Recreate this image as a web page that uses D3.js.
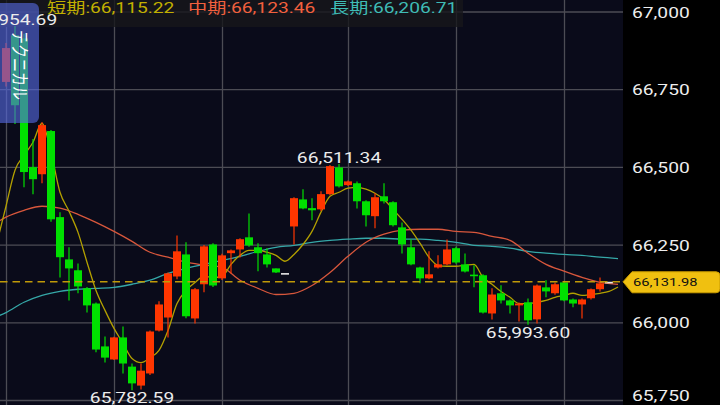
<!DOCTYPE html>
<html>
<head>
<meta charset="utf-8">
<script src="https://cdn.jsdelivr.net/npm/d3@7"></script>
<style>
  html, body { margin: 0; padding: 0; background: #000; }
  svg { display: block; }
  text { font-family: Roboto, "Noto Sans CJK JP", sans-serif; }
</style>
</head>
<body>
<div id="chart"></div>
<script>
// candles, left to right (red = up, green = down)
const opens = [
  66775, 66925, 66915, 66501, 66478, 66617, 66340, 66204, 66169, 66111,
  66062, 65924, 65882, 65953, 65859, 65798, 65837, 65975, 66017, 66149,
  66220, 66014, 66124, 66252, 66143, 66224, 66236, 66275, 66243, 66220,
  66175, 66160, 66310, 66397, 66369, 66365, 66414, 66500, 66443, 66449,
  66391, 66343, 66407, 66388, 66307, 66243, 66178, 66143, 66178, 66188,
  66240, 66188, 66155, 66153, 66030, 66095, 66072, 66056, 66066, 66011,
  66114, 66095, 66130, 66075, 66059, 66079, 66108, 66131.98
];
const highs = [
  66900, 66954.69, 66930, 66591, 66645, 66620, 66356, 66243, 66191, 66115,
  66065, 65956, 65955, 65988, 65869, 65869, 65975, 66069, 66162, 66281,
  66259, 66112, 66250, 66256, 66222, 66236, 66272, 66352, 66256, 66240,
  66175, 66160, 66404, 66430, 66401, 66423, 66508, 66511.34, 66458, 66455,
  66394, 66417, 66449, 66391, 66323, 66268, 66180, 66230, 66217, 66268,
  66245, 66223, 66185, 66156, 66111, 66121, 66075, 66065, 66078, 66123,
  66137, 66130, 66133, 66078, 66078, 66110, 66146, 66131.98
];
const lows = [
  66760, 66640, 66436, 66414, 66449, 66325, 66146, 66072, 66095, 66033,
  65905, 65872, 65880, 65837, 65782.59, 65785, 65832, 65972, 65953, 66140,
  66015, 65998, 66098, 66115, 66138, 66159, 66210, 66245, 66166, 66178,
  66160, 66160, 66252, 66365, 66330, 66360, 66410, 66435, 66440, 66368,
  66310, 66304, 66384, 66310, 66223, 66185, 66127, 66140, 66175, 66185,
  66190, 66162, 66114, 66030, 66011, 66062, 66030, 66004, 65993.60, 65998,
  66082, 66090, 66069, 66050, 66014, 66075, 66101, 66131.98
];
const closes = [
  66884, 66700, 66485, 66462, 66636, 66333, 66211, 66175, 66117, 66056,
  65914, 65888, 65953, 65869, 65805, 65846, 65972, 66059, 66159, 66230,
  66021, 66108, 66246, 66120, 66217, 66233, 66269, 66249, 66224, 66188,
  66162, 66160, 66401, 66368, 66362, 66414, 66504, 66439, 66455, 66391,
  66346, 66404, 66391, 66314, 66252, 66188, 66143, 66156, 66188, 66236,
  66194, 66165, 66150, 66033, 66091, 66072, 66056, 66062, 66008, 66120,
  66101, 66124, 66072, 66062, 66075, 66108, 66127, 66131.98
];

// moving averages
const shortStart = -1; // short MA given for every candle from index -1
const shortMA = [
  66259, 66375, 66491, 66539, 66581, 66642, 66549, 66420, 66359, 66291,
  66195, 66104, 66040, 65982, 65934, 65885, 65872, 65888, 65911, 65975,
  66062, 66104, 66130, 66149, 66146, 66149, 66188, 66217, 66233, 66233,
  66227, 66217, 66198, 66220, 66252, 66294, 66356, 66407, 66420, 66433,
  66436, 66430, 66417, 66397, 66365, 66333, 66298, 66256, 66211, 66185,
  66182, 66182, 66185, 66188, 66146, 66124, 66101, 66082, 66062, 66062,
  66066, 66072, 66082, 66088, 66095, 66088, 66091, 66095, 66101, 66115.22
];
const maIdx = [-1, 0, 2, 4, 6, 8, 10, 12, 14, 16, 18, 20, 22, 24, 26, 28, 30, 32,
  34, 36, 38, 40, 42, 44, 46, 48, 50, 52, 54, 56, 58, 60, 62, 64, 66, 68];
const midMA = [66323, 66340, 66362, 66375, 66369, 66349, 66323, 66294, 66262, 66227,
  66211, 66195, 66186, 66178, 66137, 66111, 66091, 66095, 66120, 66162, 66214, 66259,
  66285, 66298, 66301, 66301, 66294, 66291, 66278, 66265, 66224, 66188, 66166, 66146,
  66130, 66123.46];
const longMA = [66020, 66033, 66066, 66088, 66101, 66108, 66111, 66114, 66124, 66137,
  66159, 66175, 66188, 66201, 66214, 66230, 66243, 66249, 66259, 66265, 66269, 66272,
  66272, 66269, 66269, 66265, 66259, 66249, 66246, 66240, 66230, 66224, 66220, 66217,
  66211, 66206.71];

const priceTicks = [65750, 66000, 66250, 66500, 66750, 67000];
const timeGridIdx = [0, 12, 24, 38, 50, 62];
const highMarks = [1, 37];
const lowMarks = [14, 58];

const legendNames = ["短期", "中期", "長期"];
const legendValues = [66115.22, 66123.46, 66206.71];
const legendColors = ["#c2b000", "#f2603e", "#3fbcb6"];
const lineColors = ["#b3a000", "#d8573c", "#35a8a8"];

const W = 720, H = 405, plotW = 623;
const SX = 1.28; // the screenshot is stretched sideways
const upColor = "#ff3600", downColor = "#00e000", flatColor = "#e8e8e8";
const fmt = d3.format(",.2f");

const svg = d3.select("#chart").append("svg")
  .attr("width", W).attr("height", H);

svg.append("rect").attr("width", W).attr("height", H).attr("fill", "#000");
svg.append("rect").attr("width", plotW).attr("height", H).attr("fill", "#0a0b1a");

svg.append("defs").append("clipPath").attr("id", "plotClip")
  .append("rect").attr("width", plotW).attr("height", H);

const x = d3.scaleLinear().domain([0, 67]).range([6, 609]);
const y = d3.scaleLinear().domain([65750, 67000]).range([400.5, 12]);

function stretchedText(g, px, py, str) {
  return g.append("text")
    .attr("transform", `translate(${px},${py}) scale(${SX},1)`)
    .text(str);
}

// grid
const grid = svg.append("g").attr("clip-path", "url(#plotClip)");
grid.selectAll("line.h").data(priceTicks).enter().append("line")
  .attr("class", "h")
  .attr("x1", 0).attr("x2", plotW)
  .attr("y1", d => y(d)).attr("y2", d => y(d))
  .attr("stroke", "#4c4c54").attr("stroke-width", 1.3);
grid.selectAll("line.v").data(timeGridIdx).enter().append("line")
  .attr("class", "v")
  .attr("x1", d => x(d) + 0.5).attr("x2", d => x(d) + 0.5)
  .attr("y1", 0).attr("y2", H)
  .attr("stroke", "#4c4c54").attr("stroke-width", 1.3);

// legend strip
svg.append("rect").attr("x", 0).attr("y", 0).attr("width", 463).attr("height", 27)
  .attr("fill", "rgba(22,22,26,0.8)");

// moving averages
const plot = svg.append("g").attr("clip-path", "url(#plotClip)");
const line = d3.line().x(d => x(d[0])).y(d => y(d[1])).curve(d3.curveMonotoneX);

plot.append("path").datum(maIdx.map((d, i) => [d, longMA[i]]))
  .attr("d", line).attr("fill", "none")
  .attr("stroke", lineColors[2]).attr("stroke-width", 1.3);
plot.append("path").datum(maIdx.map((d, i) => [d, midMA[i]]))
  .attr("d", line).attr("fill", "none")
  .attr("stroke", lineColors[1]).attr("stroke-width", 1.3);
plot.append("path").datum(shortMA.map((v, i) => [i + shortStart, v]))
  .attr("d", line).attr("fill", "none")
  .attr("stroke", lineColors[0]).attr("stroke-width", 1.3);

// candles
const candles = opens.map((o, i) => ({ i, o, h: highs[i], l: lows[i], c: closes[i] }));
const colorOf = d => d.c > d.o ? upColor : (d.c < d.o ? downColor : flatColor);
const bw = 8;

const cg = plot.selectAll("g.candle").data(candles).enter().append("g").attr("class", "candle");
cg.append("line")
  .attr("x1", d => x(d.i)).attr("x2", d => x(d.i))
  .attr("y1", d => y(d.h)).attr("y2", d => y(d.l))
  .attr("stroke", colorOf).attr("stroke-width", 1.2);
cg.append("rect")
  .attr("x", d => x(d.i) - bw / 2)
  .attr("width", bw)
  .attr("y", d => y(Math.max(d.o, d.c)))
  .attr("height", d => Math.max(1.6, Math.abs(y(d.o) - y(d.c))))
  .attr("fill", colorOf);

// current price line
const last = closes[closes.length - 1];
plot.append("line")
  .attr("x1", 0).attr("x2", plotW)
  .attr("y1", y(last)).attr("y2", y(last))
  .attr("stroke", "#c09a08").attr("stroke-width", 1.5)
  .attr("stroke-dasharray", "7.5,5");

// "テクニカル" tab
svg.append("rect")
  .attr("x", -8).attr("y", 3).attr("width", 47).attr("height", 120).attr("rx", 6)
  .attr("fill", "rgba(85,105,225,0.62)");
svg.append("text")
  .attr("transform", `translate(13,30) scale(${SX},1) rotate(90)`)
  .attr("fill", "#fff").attr("font-size", 14)
  .text("テクニカル");

// high / low labels
const marks = svg.append("g").attr("font-size", 15).attr("fill", "#ececec")
  .attr("text-anchor", "middle");
highMarks.forEach(i => stretchedText(marks, x(i), y(highs[i]) - 1, fmt(highs[i])));
lowMarks.forEach(i => stretchedText(marks, x(i), y(lows[i]) + 13, fmt(lows[i])));

// right axis
const axis = svg.append("g").attr("font-size", 15).attr("fill", "#eeeeee");
priceTicks.forEach(v => {
  stretchedText(axis, 632, Math.min(y(v), 395) + 5.5, d3.format(",")(v));
});

// price tag
const ty = y(last);
svg.append("path")
  .attr("d", `M623,${ty} L632,${ty - 10} L716,${ty - 10} Q720,${ty - 10} 720,${ty - 6}
    L720,${ty + 7} Q720,${ty + 11} 716,${ty + 11} L632,${ty + 11} Z`)
  .attr("fill", "#f0c010").attr("stroke", "#c89a00").attr("stroke-width", 1);
stretchedText(svg.append("g").attr("font-size", 11.5).attr("fill", "#111"),
  633, ty + 4.5, fmt(last));

// legend
const legend = svg.append("g").attr("font-size", 15);
const legendX = [47, 188, 330];
legendNames.forEach((n, k) => {
  stretchedText(legend, legendX[k], 13, `${n}:${fmt(legendValues[k])}`)
    .attr("fill", legendColors[k]);
});
</script>
</body>
</html>
